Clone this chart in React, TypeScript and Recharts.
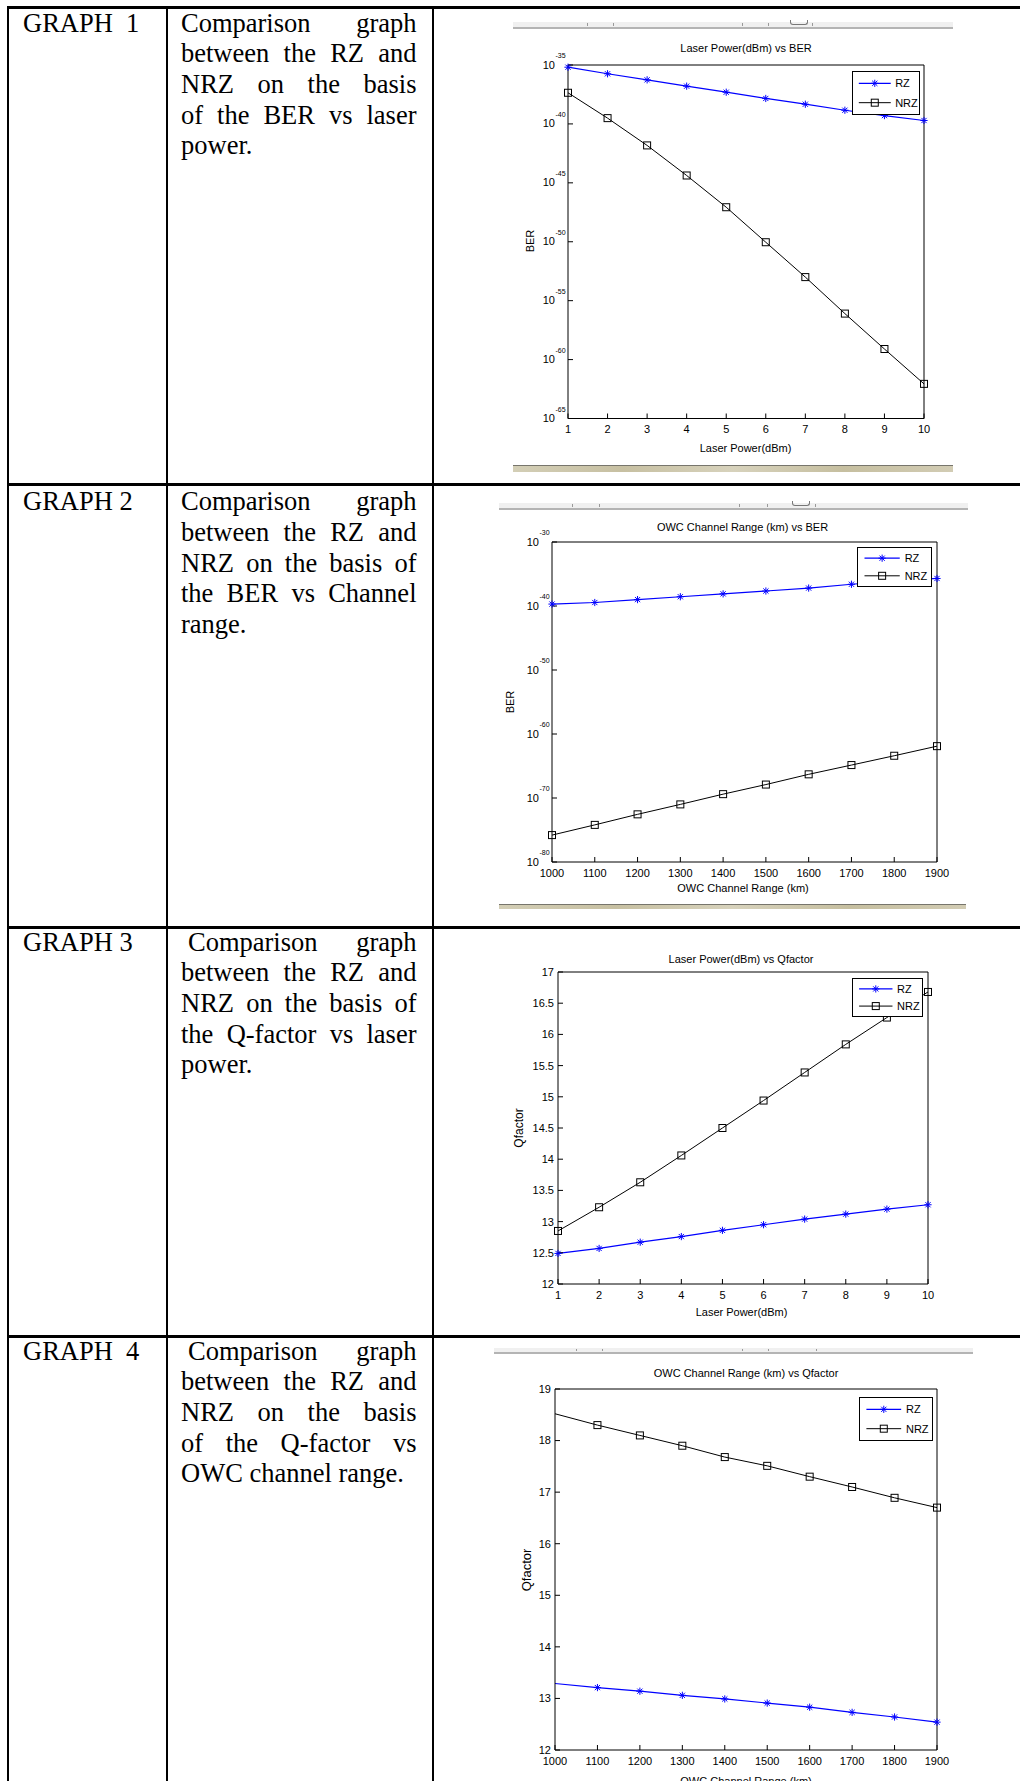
import React from 'react';
import { LineChart, Line, XAxis, YAxis } from 'recharts';

const SANS = '"Liberation Sans", Arial, sans-serif';
const SERIF = '"Liberation Serif", "Times New Roman", serif';
const BLUE = '#0000ff';

// x values
const laserPower = [1, 2, 3, 4, 5, 6, 7, 8, 9, 10];
const channelRange = [1000, 1100, 1200, 1300, 1400, 1500, 1600, 1700, 1800, 1900];
const seriesNames = ['RZ', 'NRZ'];

// graph 1: BER vs laser power
const berRzPower = [6.5e-36, 1.8e-36, 5.5e-37, 1.6e-37, 4.9e-38, 1.45e-38, 4.7e-39, 1.45e-39, 5.1e-40, 1.95e-40];
const berNrzPower = [4.4e-38, 3.1e-40, 1.5e-42, 4.2e-45, 8.5e-48, 9.1e-51, 1.0e-53, 8.0e-57, 7.9e-60, 8.7e-63];

// graph 2: BER vs channel range
const berRzRange = [2.0e-40, 3.5e-40, 1.0e-39, 2.8e-39, 7.9e-39, 2.2e-38, 6.3e-38, 2.5e-37, 7.9e-37, 2.0e-36];
const berNrzRange = [1.6e-76, 6.3e-75, 2.8e-73, 1.0e-71, 4.0e-70, 1.26e-68, 5.0e-67, 1.4e-65, 4.0e-64, 1.26e-62];

// graph 3: Q-factor vs laser power
const qRzPower = [12.49, 12.57, 12.67, 12.76, 12.86, 12.95, 13.04, 13.12, 13.2, 13.27];
const qNrzPower = [12.85, 13.23, 13.63, 14.06, 14.5, 14.94, 15.39, 15.84, 16.27, 16.68];

// graph 4: Q-factor vs channel range
const qRzRange = [13.29, 13.21, 13.14, 13.06, 12.99, 12.91, 12.83, 12.73, 12.64, 12.54];
const qNrzRange = [18.52, 18.3, 18.1, 17.9, 17.68, 17.51, 17.3, 17.1, 16.89, 16.7];

// tick values
const berPowerTicks = [1e-65, 1e-60, 1e-55, 1e-50, 1e-45, 1e-40, 1e-35];
const berRangeTicks = [1e-80, 1e-70, 1e-60, 1e-50, 1e-40, 1e-30];
const qPowerTicks = [12, 12.5, 13, 13.5, 14, 14.5, 15, 15.5, 16, 16.5, 17];
const qRangeTicks = [12, 13, 14, 15, 16, 17, 18, 19];

// table text
const graphLabels = ['GRAPH  1', 'GRAPH 2', 'GRAPH 3', 'GRAPH  4'];
const captionLines = [
  ['Comparison graph', 'between the RZ and', 'NRZ on the basis', 'of the BER vs laser', 'power.'],
  ['Comparison graph', 'between the RZ and', 'NRZ on the basis of', 'the BER vs Channel', 'range.'],
  ['Comparison graph', 'between the RZ and', 'NRZ on the basis of', 'the Q-factor vs laser', 'power.'],
  ['Comparison graph', 'between the RZ and', 'NRZ on the basis', 'of the Q-factor vs', 'OWC channel range.'],
];
const rowLines = [7, 484, 927, 1336];
const rowTextOffset = [0.8, 2.3, -0.2, -0.2];
const captionIndent = [0, 0, 7, 7];
const colLines = [8, 167, 433];

const drawMarker = (kind: string, cx: number, cy: number, key?: string) => {
  if (kind === 'star') {
    const r = 3.6;
    const d = 2.6;
    return (
      <g key={key} stroke={BLUE} strokeWidth={1}>
        <line x1={cx - r} y1={cy} x2={cx + r} y2={cy} />
        <line x1={cx} y1={cy - r} x2={cx} y2={cy + r} />
        <line x1={cx - d} y1={cy - d} x2={cx + d} y2={cy + d} />
        <line x1={cx - d} y1={cy + d} x2={cx + d} y2={cy - d} />
      </g>
    );
  }
  return <rect key={key} x={cx - 3.5} y={cy - 3.5} width={7} height={7} fill="none" stroke="#000" strokeWidth={1} />;
};

const makeDot = (kind: string, skipFirst: boolean) => (p: any) => {
  const key = `${kind}-${p.index}`;
  if (p.cx == null || p.cy == null || (skipFirst && p.index === 0)) return <g key={key} />;
  return drawMarker(kind, p.cx, p.cy, key);
};

const LogTick = (props: any) => {
  const { x, y, payload } = props;
  const e = Math.round(Math.log10(payload.value));
  return (
    <g fontFamily={SANS} fill="#000">
      <text x={x - 9} y={y + 3.5} textAnchor="end" fontSize={11}>10</text>
      <text x={x - 8.5} y={y - 7} textAnchor="start" fontSize={7}>{e}</text>
    </g>
  );
};

const Txt = ({ x, y, size = 11, rotate = 0, children }: any) => (
  <div
    style={{
      position: 'absolute',
      left: x,
      top: y,
      transform: `translate(-50%, -50%) rotate(${rotate}deg)`,
      fontSize: size,
      lineHeight: 1,
      fontFamily: SANS,
      whiteSpace: 'nowrap',
      color: '#000',
    }}
  >
    {children}
  </div>
);

const panels = [
  {
    title: 'Laser Power(dBm) vs BER', xTitle: 'Laser Power(dBm)', yTitle: 'BER',
    xs: laserPower, rz: berRzPower, nrz: berNrzPower, yTicks: berPowerTicks, log: true,
    box: { l: 568, t: 64.5, r: 924, b: 418 },
    titleAt: [746, 48], xTitleAt: [745.5, 448], yTitleAt: [530, 241], yTitleSize: 11,
    legend: { x: 852, y: 71, w: 68, h: 44 }, skipFirst: false,
    strip: { x: 513, y: 22, w: 440, h: 5, marks: [587, 613, 742, 768, 812], button: 790 },
    bar: { x: 513, y: 465, w: 440, h: 7 },
  },
  {
    title: 'OWC Channel Range (km) vs BER', xTitle: 'OWC Channel Range (km)', yTitle: 'BER',
    xs: channelRange, rz: berRzRange, nrz: berNrzRange, yTicks: berRangeTicks, log: true,
    box: { l: 552, t: 542, r: 937, b: 862 },
    titleAt: [742.5, 527], xTitleAt: [743, 888], yTitleAt: [509.5, 702], yTitleSize: 11,
    legend: { x: 857, y: 547, w: 75, h: 40 }, skipFirst: false,
    strip: { x: 499, y: 503, w: 469, h: 5, marks: [572, 599, 739, 767, 815], button: 792 },
    bar: { x: 499, y: 904, w: 467, h: 5 },
  },
  {
    title: 'Laser Power(dBm) vs Qfactor', xTitle: 'Laser Power(dBm)', yTitle: 'Qfactor',
    xs: laserPower, rz: qRzPower, nrz: qNrzPower, yTicks: qPowerTicks, log: false,
    box: { l: 558, t: 972, r: 928, b: 1284 },
    titleAt: [741, 959], xTitleAt: [741.5, 1311.5], yTitleAt: [519, 1128], yTitleSize: 12,
    legend: { x: 852, y: 978, w: 71, h: 39 }, skipFirst: false,
    strip: null, bar: null,
  },
  {
    title: 'OWC Channel Range (km) vs Qfactor', xTitle: 'OWC Channel Range (km)', yTitle: 'Qfactor',
    xs: channelRange, rz: qRzRange, nrz: qNrzRange, yTicks: qRangeTicks, log: false,
    box: { l: 555, t: 1389, r: 937, b: 1750 },
    titleAt: [746, 1373], xTitleAt: [746, 1781], yTitleAt: [525.7, 1570], yTitleSize: 13,
    legend: { x: 859, y: 1397, w: 74, h: 44 }, skipFirst: true,
    strip: { x: 494, y: 1348, w: 479, h: 4, marks: [576, 602, 742, 768, 816], button: null },
    bar: null,
  },
];

const tickStyle = { fontSize: 11, fill: '#000', fontFamily: SANS };
const black = { stroke: '#000' };

// room above the plot box so the 10^-35 superscripts are not clipped
const TOP_PAD = 20;

function Plot({ p }: { p: any }) {
  const { box } = p;
  const W = box.r - box.l;
  const H = box.b - box.t;
  const data = p.xs.map((x: number, i: number) => ({ x, rz: p.rz[i], nrz: p.nrz[i] }));
  const xDomain = [p.xs[0], p.xs[p.xs.length - 1]];
  const yDomain = [p.yTicks[0], p.yTicks[p.yTicks.length - 1]];
  const yScale = p.log ? 'log' : 'linear';
  return (
    <div style={{ position: 'absolute', left: box.l - 60, top: box.t - TOP_PAD }}>
      <LineChart width={W + 80} height={H + TOP_PAD + 40} data={data} margin={{ top: 0, right: 0, bottom: 0, left: 0 }}>
        <XAxis
          dataKey="x" type="number" domain={xDomain} ticks={p.xs} interval={0} height={40}
          tickSize={-5} tickMargin={12} tick={tickStyle} axisLine={black} tickLine={black}
        />
        <XAxis
          xAxisId="top" orientation="top" type="number" domain={xDomain} ticks={p.xs} interval={0}
          height={TOP_PAD} tickSize={-5} tick={false} axisLine={black} tickLine={black} allowDataOverflow
        />
        <YAxis
          type="number" scale={yScale} domain={yDomain} ticks={p.yTicks} interval={0} width={60}
          tickSize={-5} tickMargin={9} tick={p.log ? <LogTick /> : tickStyle} axisLine={black} tickLine={black}
        />
        <YAxis
          yAxisId="right" orientation="right" type="number" scale={yScale} domain={yDomain} ticks={p.yTicks}
          interval={0} width={20} tickSize={-5} tick={false} axisLine={black} tickLine={black} allowDataOverflow
        />
        <Line
          type="linear" dataKey="rz" name={seriesNames[0]} stroke={BLUE} strokeWidth={1.2}
          dot={makeDot('star', p.skipFirst)} activeDot={false} isAnimationActive={false}
        />
        <Line
          type="linear" dataKey="nrz" name={seriesNames[1]} stroke="#000" strokeWidth={1}
          dot={makeDot('square', p.skipFirst)} activeDot={false} isAnimationActive={false}
        />
      </LineChart>
    </div>
  );
}

function LegendBox({ lg }: { lg: any }) {
  const rows = [
    { name: seriesNames[0], kind: 'star', color: BLUE, cy: lg.h * 0.28 },
    { name: seriesNames[1], kind: 'square', color: '#000', cy: lg.h * 0.72 },
  ];
  return (
    <div
      style={{
        position: 'absolute', left: lg.x, top: lg.y, width: lg.w, height: lg.h,
        border: '1px solid #000', background: '#fff', boxSizing: 'border-box',
      }}
    >
      <svg width={lg.w} height={lg.h} style={{ position: 'absolute', left: -1, top: -1, overflow: 'visible' }}>
        {rows.map((r, i) => {
          const x1 = lg.w * 0.1;
          const x2 = lg.w * 0.57;
          return (
            <g key={i}>
              <line x1={x1} y1={r.cy} x2={x2} y2={r.cy} stroke={r.color} strokeWidth={i === 0 ? 1.2 : 1} />
              {drawMarker(r.kind, (x1 + x2) / 2, r.cy)}
              <text x={lg.w * 0.635} y={r.cy + 4} fontSize={11} fontFamily={SANS} fill="#000">{r.name}</text>
            </g>
          );
        })}
      </svg>
    </div>
  );
}

// grey toolbar remnant above the screenshots
function Strip({ s }: { s: any }) {
  return (
    <div
      style={{
        position: 'absolute', left: s.x, top: s.y, width: s.w, height: s.h,
        background: '#f0f0f0', borderBottom: '2px solid #b4b4b4',
      }}
    >
      {s.marks.map((m: number) => (
        <div key={m} style={{ position: 'absolute', left: m - s.x, top: 1, width: 1, height: s.h - 2, background: '#9a9a9a' }} />
      ))}
      {s.button != null && (
        <div
          style={{
            position: 'absolute', left: s.button - s.x, top: -2, width: 18, height: s.h,
            border: '1px solid #777', borderTop: 'none', borderRadius: '0 0 3px 3px', boxSizing: 'border-box',
          }}
        />
      )}
    </div>
  );
}

// khaki window edge below the screenshots
function Bar({ b }: { b: any }) {
  return (
    <div
      style={{
        position: 'absolute', left: b.x, top: b.y, width: b.w, height: b.h, boxSizing: 'border-box',
        borderTop: '1px solid #77756c',
        background: 'linear-gradient(to right, #d3ceb6, #c7c0a2 25%, #d7d2bc 50%, #c6bfa0 75%, #d2ccb4)',
      }}
    />
  );
}

export default function App() {
  return (
    <div style={{ position: 'absolute', left: 0, top: 0, width: 1020, height: 1781, overflow: 'hidden', background: '#fff' }}>
      {rowLines.map((y) => (
        <div key={`h${y}`} style={{ position: 'absolute', left: 7, top: y - 1.5, width: 1013, height: 3, background: '#000' }} />
      ))}
      {colLines.map((x) => (
        <div key={`v${x}`} style={{ position: 'absolute', left: x - 1, top: 6, width: 2, height: 1781, background: '#000' }} />
      ))}

      {rowLines.map((y, r) => {
        const top = y + rowTextOffset[r];
        return (
          <React.Fragment key={`row${r}`}>
            <div
              style={{
                position: 'absolute', left: 23, top, fontFamily: SERIF, fontSize: 26.5,
                lineHeight: '30.6px', whiteSpace: 'pre', color: '#000',
              }}
            >
              {graphLabels[r]}
            </div>
            {captionLines[r].map((line, i) => {
              const last = i === captionLines[r].length - 1;
              const indent = i === 0 ? captionIndent[r] : 0;
              return (
                <div
                  key={i}
                  style={{
                    position: 'absolute', left: 181 + indent, top: top + i * 30.6, width: 235.5 - indent,
                    fontFamily: SERIF, fontSize: 26.5, lineHeight: '30.6px', height: 30.6, color: '#000',
                    textAlign: last ? 'left' : 'justify', textAlignLast: last ? 'left' : 'justify',
                  }}
                >
                  {line}
                </div>
              );
            })}
          </React.Fragment>
        );
      })}

      {panels.map((p, i) => (
        <React.Fragment key={`panel${i}`}>
          {p.strip && <Strip s={p.strip} />}
          {p.bar && <Bar b={p.bar} />}
          <Plot p={p} />
          <LegendBox lg={p.legend} />
          <Txt x={p.titleAt[0]} y={p.titleAt[1]}>{p.title}</Txt>
          <Txt x={p.xTitleAt[0]} y={p.xTitleAt[1]}>{p.xTitle}</Txt>
          <Txt x={p.yTitleAt[0]} y={p.yTitleAt[1]} rotate={-90} size={p.yTitleSize}>{p.yTitle}</Txt>
        </React.Fragment>
      ))}
    </div>
  );
}
